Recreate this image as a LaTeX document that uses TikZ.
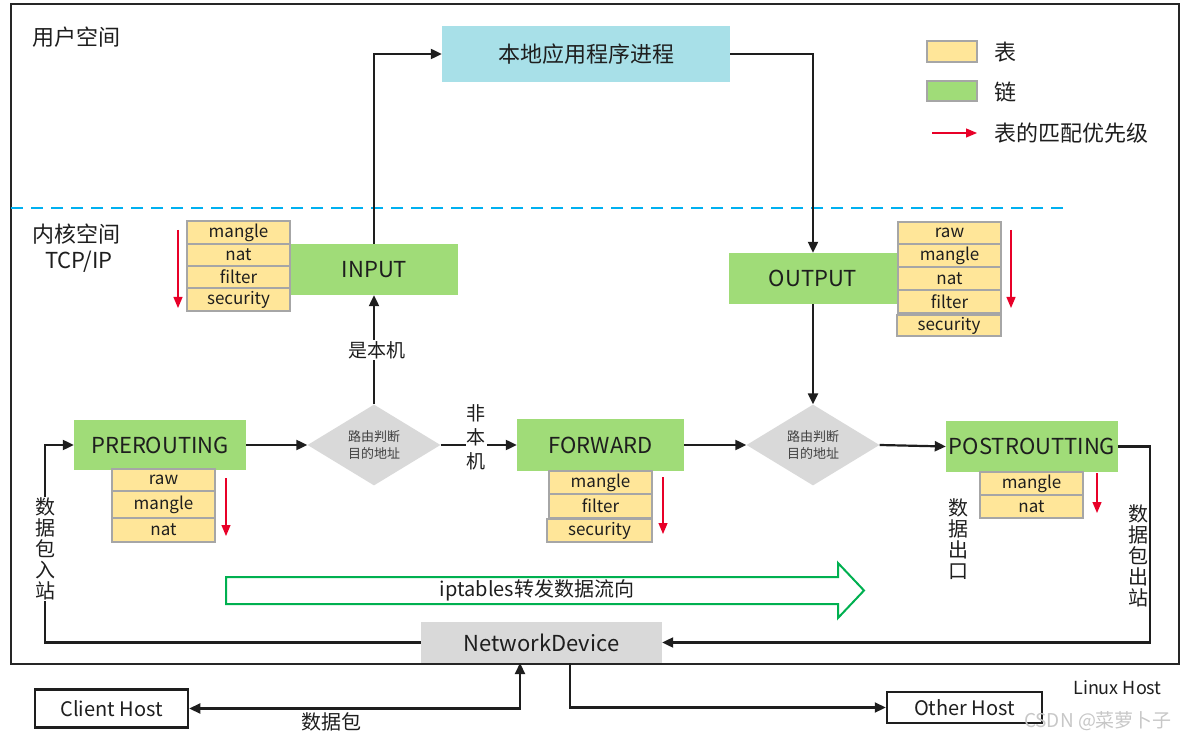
\documentclass[tikz,border=0pt]{standalone}
\usepackage{fontspec}
\setmainfont{Noto Sans CJK SC}
\usetikzlibrary{shapes.geometric,arrows.meta,calc}
\definecolor{chaingreen}{RGB}{160,220,120}
\definecolor{tblyellow}{RGB}{255,230,153}
\definecolor{tblgray}{RGB}{166,166,166}
\definecolor{appblue}{RGB}{168,224,232}
\definecolor{devgray}{RGB}{217,217,217}
\definecolor{prioRed}{RGB}{232,0,40}
\definecolor{dashblue}{RGB}{0,176,240}
\definecolor{flowgreen}{RGB}{0,176,80}
\definecolor{inkgray}{RGB}{30,30,30}
\newcommand{\myfs}[2]{\fontsize{#1}{#2}\selectfont}
\begin{document}
\begin{tikzpicture}[x=1pt,y=-1pt,
  chainbox/.style={fill=chaingreen, inner sep=0pt, font=\myfs{22}{26}, text=inkgray},
  tbl/.style={fill=tblyellow, draw=tblgray, line width=1.5pt, inner sep=0pt, minimum width=103pt, font=\myfs{17}{20}, text=inkgray},
  conn/.style={draw=inkgray, line width=2.2pt, -{Triangle[length=11pt,width=10pt]}},
  prio/.style={draw=prioRed, line width=1.2pt, -{Triangle[length=11pt,width=9pt]}},
  routediamond/.style={diamond, fill=devgray, minimum width=133pt, minimum height=72pt, inner sep=0pt, align=center, font=\myfs{13}{17}, text=black!75},
  vlabel/.style={align=center, inner sep=1pt, font=\myfs{20}{21}, text=inkgray},
  lbl/.style={inner sep=1pt, text=inkgray},
]
\useasboundingbox (0,0) rectangle (1189,743);

% outer host box
\draw[line width=2.5pt, draw=black!85] (11,4) rectangle (1179,664);
% user/kernel separator
\draw[dashblue, line width=2pt, dash pattern=on 12pt off 8pt] (11,208) -- (1064,208);

% space labels
\node[lbl, anchor=west, font=\myfs{22}{26}] (userspace) at (31,37) {用户空间};
\node[lbl, anchor=west, font=\myfs{22}{26}] (kernelspace) at (31,234) {内核空间};
\node[lbl, font=\myfs{22}{26}] (tcpip) at (79,262) {TCP/IP};

% legend
\node[fill=tblyellow, draw=tblgray, line width=1.5pt, minimum width=50pt, minimum height=21pt, inner sep=0pt] (legtbl) at (952,51.5) {};
\node[lbl, anchor=west, font=\myfs{22}{26}] (legtbltxt) at (993,52) {表};
\node[fill=chaingreen, draw=tblgray, line width=1.5pt, minimum width=50pt, minimum height=20pt, inner sep=0pt] (legchain) at (952,91) {};
\node[lbl, anchor=west, font=\myfs{22}{26}] (legchaintxt) at (993,92) {链};
\coordinate (legA) at (932,133);
\coordinate (legB) at (977,133);
\node[lbl, anchor=west, font=\myfs{22}{26}] (legprio) at (993,133) {表的匹配优先级};
\draw[prio] (legA) -- (legB);

% user-space process
\node[fill=appblue, minimum width=288pt, minimum height=56pt, inner sep=0pt, font=\myfs{22}{26}, text=inkgray] (app) at (586,54) {本地应用程序进程};

% chains
\node[chainbox, minimum width=167pt, minimum height=51pt] (input) at (374.5,269.5) {INPUT};
\node[chainbox, minimum width=168pt, minimum height=51pt] (output) at (813,278.5) {OUTPUT};
\node[chainbox, minimum width=172pt, minimum height=50pt] (pre) at (160,445) {PREROUTING};
\node[chainbox, minimum width=167pt, minimum height=52pt] (fwd) at (600.5,445) {FORWARD};
\node[chainbox, minimum width=172pt, minimum height=51pt] (post) at (1032,446.5) {POSTROUTTING};

% INPUT tables
\node[tbl, minimum height=23pt] (in1) at (238.5,232.5) {mangle};
\node[tbl, minimum height=22pt] (in2) at (238.5,255) {nat};
\node[tbl, minimum height=22pt] (in3) at (238.5,277) {filter};
\node[tbl, minimum height=23pt] (in4) at (238.5,299.5) {security};
\coordinate (inA) at (178,230);
\coordinate (inB) at (178,308);
\draw[prio] (inA) -- (inB);

% OUTPUT tables
\node[tbl, minimum height=22pt] (out1) at (949.5,233) {raw};
\node[tbl, minimum height=23pt] (out2) at (949.5,255.5) {mangle};
\node[tbl, minimum height=23pt] (out3) at (949.5,278.5) {nat};
\node[tbl, minimum height=23pt] (out4) at (949.5,301.5) {filter};
\node[tbl, minimum height=21pt, minimum width=104pt] (out5) at (949,325.5) {security};
\coordinate (outA) at (1011,230);
\coordinate (outB) at (1011,308);
\draw[prio] (outA) -- (outB);

% PREROUTING tables
\node[tbl, minimum height=22pt] (pre1) at (163.5,480) {raw};
\node[tbl, minimum height=27pt] (pre2) at (163.5,504.5) {mangle};
\node[tbl, minimum height=24pt] (pre3) at (163.5,530) {nat};
\coordinate (preA) at (226,478);
\coordinate (preB) at (226,536);
\draw[prio] (preA) -- (preB);

% FORWARD tables
\node[tbl, minimum height=23pt] (fwd1) at (600.5,482.5) {mangle};
\node[tbl, minimum height=24pt] (fwd2) at (600.5,506) {filter};
\node[tbl, minimum height=23pt, minimum width=105pt] (fwd3) at (599.5,530.5) {security};
\coordinate (fwdA) at (663,477);
\coordinate (fwdB) at (663,534);
\draw[prio] (fwdA) -- (fwdB);

% POSTROUTTING tables
\node[tbl, minimum height=23pt] (post1) at (1031.5,483.5) {mangle};
\node[tbl, minimum height=23pt] (post2) at (1031.5,506.5) {nat};
\coordinate (postA) at (1097,473);
\coordinate (postB) at (1097,513);
\draw[prio] (postA) -- (postB);

% routing decisions
\node[routediamond] (d1) at (374,445) {路由判断\\目的地址};
\node[routediamond, minimum height=73pt] (d2) at (813,445) {路由判断\\目的地址};

% network device and hosts
\node[fill=devgray, minimum width=241pt, minimum height=41pt, inner sep=0pt, font=\myfs{22}{26}, text=inkgray] (nd) at (541.5,642.5) {NetworkDevice};
\node[draw=inkgray, line width=2.5pt, minimum width=153pt, minimum height=38pt, inner sep=0pt, font=\myfs{20}{24}, text=inkgray] (client) at (111.5,708.5) {Client Host};
\node[draw=inkgray, line width=2.5pt, minimum width=155pt, minimum height=31pt, inner sep=0pt, font=\myfs{20}{24}, text=inkgray] (other) at (964.5,707.5) {Other Host};

% connectors
\draw[conn] (pre.east) -- (d1.west);
\draw[conn] (d1.north) -- (d1.north |- input.south);
\draw[conn] (d1.north |- input.north) |- (app.west);
\draw[conn] (app.east) -| (output.north);
\draw[conn] (output.south) -- (d2.north);
\draw[conn] (d1.east) -- (fwd.west);
\draw[conn] (fwd.east) -- (d2.west);
\draw[conn] (d2.east) -- (post.west);
\coordinate (outR) at (1150,446.5);
\draw[conn] (post.east) -- (outR) |- (nd.east);
\coordinate (inL) at (45,445);
\draw[conn] (nd.west) -| (inL) -- (pre.west);
\coordinate (ndA) at (520,663);
\coordinate (ndB) at (570,663);
\draw[conn, {Triangle[length=11pt,width=10pt]}-{Triangle[length=11pt,width=10pt]}] (client.east) -| (ndA);
\draw[conn] (ndB) |- (other.west);

% connector labels
\node[lbl, fill=white, font=\myfs{19}{22}] (isLocal) at (377,350) {是本机};
\node[vlabel, fill=white, font=\myfs{19}{24}] (notLocal) at (476,437) {非\\本\\机};
\node[vlabel, fill=white] (inbound) at (45,549) {数\\据\\包\\入\\站};
\node[vlabel] (egress) at (958,539) {数\\据\\出\\口};
\node[vlabel, fill=white] (outbound) at (1138,556) {数\\据\\包\\出\\站};
\node[lbl, font=\myfs{20}{24}] (packet) at (331,722) {数据包};
\node[lbl, font=\myfs{18}{22}] (linuxhost) at (1117.5,688) {Linux Host};

% flow direction arrow
\draw[flowgreen, line width=2pt, line join=miter] (226,577) -- (838,577) -- (838,563) -- (864,590.5) -- (838,618) -- (838,604) -- (226,604) -- cycle;
\node[lbl, font=\myfs{20}{24}] (flowtxt) at (537,590) {iptables转发数据流向};

% watermark
\node[lbl, text=black!22, font=\myfs{19}{22}] (wm) at (1098,721) {CSDN @菜萝卜子};
\end{tikzpicture}
\end{document}
